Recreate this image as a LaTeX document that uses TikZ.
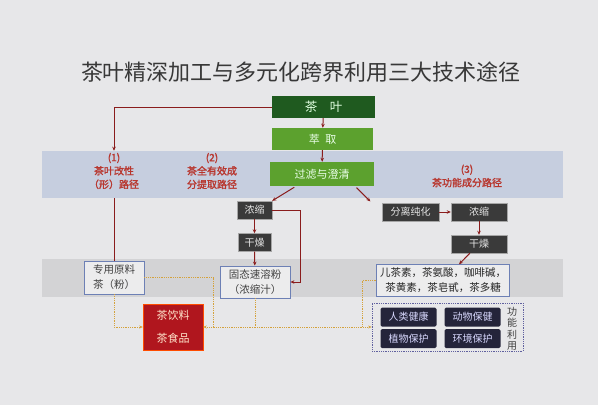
\documentclass[tikz,border=0pt]{standalone}
\usepackage{fontspec}
\setmainfont{Noto Sans CJK SC}[AutoFakeBold=1.6]
\usetikzlibrary{arrows.meta}

\definecolor{paper}{HTML}{E7E7E9}
\definecolor{bandblue}{HTML}{C6CEDF}
\definecolor{bandgray}{HTML}{D3D3D5}
\definecolor{teagreen}{HTML}{1F5A1F}
\definecolor{leafgreen}{HTML}{5CA12E}
\definecolor{boxdark}{HTML}{3A3A3A}
\definecolor{boxnavy}{HTML}{24243A}
\definecolor{pathred}{HTML}{B8362E}
\definecolor{linered}{HTML}{8A1C1C}
\definecolor{boxred}{HTML}{B0161E}
\definecolor{dotline}{HTML}{D4A23C}
\definecolor{boxedge}{HTML}{6D80B5}

\tikzset{
  greenbox/.style={fill=leafgreen,text=white!92!green,minimum width=101pt,minimum height=22pt,
    font=\fontsize{11}{13}\selectfont},
  darkbox/.style={fill=boxdark,draw=gray!70,line width=0.4pt,text=white!90!black,minimum height=18pt,
    inner sep=2pt,font=\fontsize{10}{12}\selectfont},
  navybox/.style={fill=boxnavy,text=white!85!blue,rounded corners=1.5pt,minimum width=56pt,minimum height=19pt,
    font=\fontsize{10}{12}\selectfont},
  lightbox/.style={fill=paper!80!white,draw=boxedge,line width=0.8pt,text=black!75,align=center,
    font=\fontsize{10.5}{15}\selectfont},
  pathlabel/.style={text=pathred,align=center,inner sep=2pt,font=\fontsize{10}{13.5}\selectfont\bfseries},
  rline/.style={draw=linered,line width=1pt,-{Stealth[length=4pt,width=3.5pt]}},
  dline/.style={draw=dotline,line width=0.8pt,densely dotted},
  dtip/.style={-{Stealth[length=3.5pt,width=3pt]}},
}

\begin{document}
\begin{tikzpicture}[x=1pt,y=-1pt]
\useasboundingbox[fill=paper] (0,0) rectangle (598,405);
\fill[bandblue] (42,151) rectangle (563,198);% route band
\fill[bandgray] (42,259) rectangle (563,297);% product band
\node[text=black!78,font=\fontsize{22}{24}\selectfont] (title) at (301,72) {茶叶精深加工与多元化跨界利用三大技术途径};
%%%%%%%%%%%%%%%%%%%%%%%%%%%%%%
\node[fill=teagreen,text=white!88!green,minimum width=103pt,minimum height=22pt,
  font=\fontsize{12.5}{14}\selectfont] (tea) at (323.5,107) {茶\quad 叶};
\node[greenbox] (extract) at (322.5,139) {萃\enspace 取};
\node[greenbox,minimum width=104pt,minimum height=24pt] (filter) at (322,174) {过滤与澄清};
\node[pathlabel] (route1) at (114,171) {(1)\\茶叶改性\\（形）路径};
\node[pathlabel] (route2) at (212,171) {(2)\\茶全有效成\\分提取路径};
\node[pathlabel] (route3) at (467,176) {(3)\\茶功能成分路径};
\coordinate (below1) at (114,198);
%%%%%%%%%%%%%%%%%%%%%%%%%%%%%%
\node[darkbox,minimum width=35pt] (conc1) at (254.5,210) {浓缩};
\node[darkbox,minimum width=33pt] (dry1) at (254.5,242.5) {干燥};
\node[lightbox,minimum width=70pt,minimum height=32pt] (instant) at (255,282) {固态速溶粉\\（浓缩汁）};
\node[lightbox,minimum width=60pt,minimum height=33pt] (raw) at (114,277.5) {专用原料\\茶（粉）};
\node[darkbox,minimum width=57pt] (separate) at (410.5,212) {分离纯化};
\node[darkbox,minimum width=56pt] (conc2) at (479,212) {浓缩};
\node[darkbox,minimum width=56pt] (dry2) at (479,244) {干燥};
\node[lightbox,minimum width=132pt,minimum height=31pt,text=black!85] (compound) at (443,280.5) {儿茶素，茶氨酸，咖啡碱，\\茶黄素，茶皂甙，茶多糖};
%%%%%%%%%%%%%%%%%%%%%%%%%%%%%%
\node[fill=boxred,draw=orange!60!red,line width=0.4pt,text=orange!20!white,minimum width=60pt,minimum height=46pt,
  align=center,font=\fontsize{11}{23}\selectfont] (drink) at (173,327) {茶饮料\\茶食品};
\node[draw=gray!75!blue,densely dotted,line width=0.8pt,minimum width=151pt,minimum height=48pt] (func) at (447.5,327) {};
\node[navybox] (human) at (408.5,317) {人类健康};
\node[navybox] (animal) at (472.5,317) {动物保健};
\node[navybox] (plant) at (408.5,338.5) {植物保护};
\node[navybox] (environ) at (472.5,338.5) {环境保护};
\node[text=black!75,align=center,inner sep=0pt,font=\fontsize{10}{11.5}\selectfont] (use) at (512,329) {功\\能\\利\\用};
%%%%%%%%%%%%%%%%%%%%%%%%%%%%%%
\draw[rline] (tea) -- (extract);
\draw[rline] (extract) -- (filter);
\draw[rline] (tea.west) -| (route1.north);
\draw[rline,-] (below1) -- (raw.north);
\draw[rline,shorten <=2pt] ([xshift=-26pt]filter.south) -- (conc1.north east);
\draw[rline,shorten <=2pt,shorten >=2pt] ([xshift=33pt]filter.south) -- ([xshift=-10pt]separate.north west);
\draw[rline] (conc1) -- (dry1);
\draw[rline] (dry1) -- (instant);
\draw[rline] (conc1.east) -- ++(28.5,0) |- (instant.east);
\draw[rline] (separate) -- (conc2);
\draw[rline] (conc2) -- (dry2);
\draw[rline] (dry2) -- (compound);
%%%%%%%%%%%%%%%%%%%%%%%%%%%%%%
\coordinate (join1) at (213,327);
\coordinate (join2) at (362,327);
\draw[dline,dtip] (raw.south) |- (drink.west);
\draw[dline] (raw.east) -| (join1);
\draw[dline,dtip] (instant.south) |- (drink.east);
\draw[dline,dtip] (instant.south) |- (func.west);
\draw[dline] (compound.west) -| (join2);
\end{tikzpicture}
\end{document}
